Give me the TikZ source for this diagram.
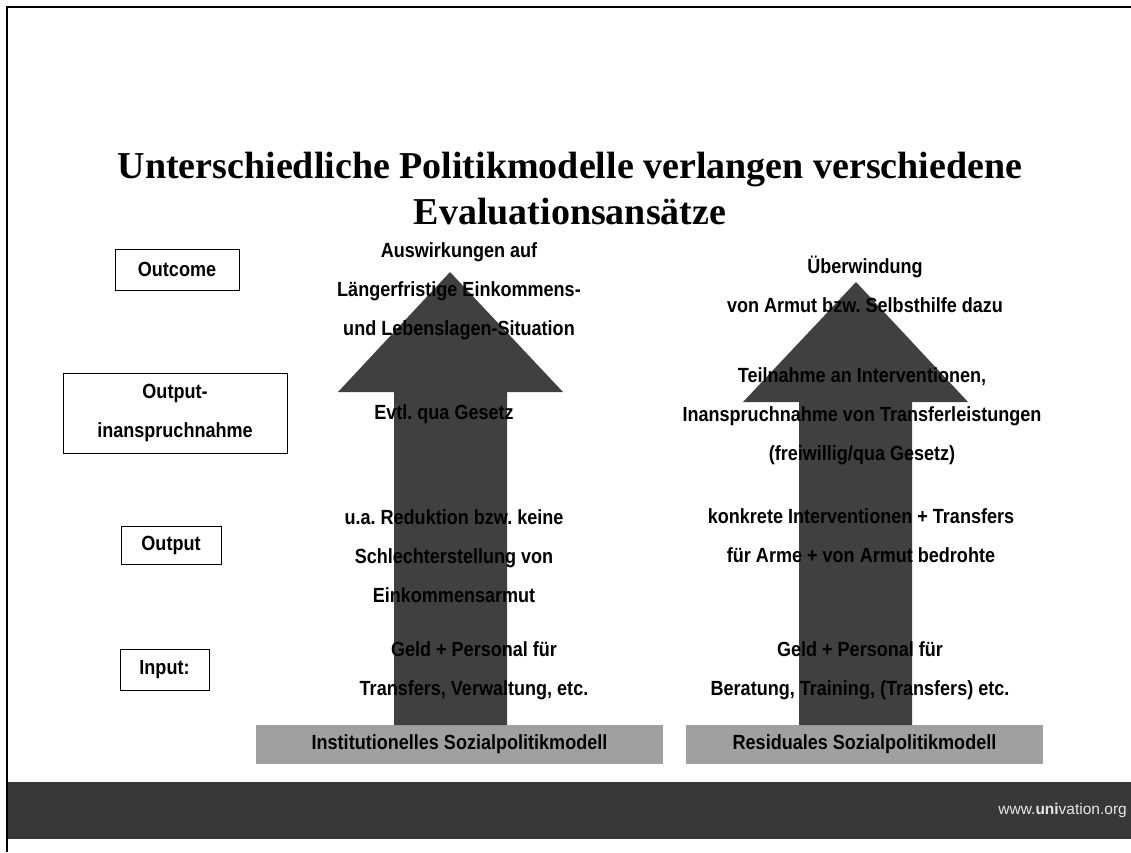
\documentclass[tikz,border=0pt]{standalone}
\usepackage{fontspec}
\setmainfont{Liberation Sans}[FakeStretch=0.88]
\newfontfamily\titelfont{Liberation Serif}
\newfontfamily\webfont{Liberation Sans}
\usepackage{tikz}
\usetikzlibrary{positioning}
\frenchspacing

\definecolor{pfeilgrau}{HTML}{404040}
\definecolor{bandgrau}{HTML}{383838}
\definecolor{balkengrau}{HTML}{A0A0A0}
\definecolor{webgrau}{HTML}{E6E6E6}

\begin{document}
\begin{tikzpicture}[x=1pt, y=-1pt,
  every node/.style={font=\bfseries\fontsize{20.5}{39}\selectfont, align=center, inner sep=0pt},
  stufe/.style={draw, line width=0.8pt, minimum height=41pt},
  modell/.style={fill=balkengrau, minimum height=39pt},
  pfeil/.style={fill=pfeilgrau}]
\useasboundingbox (0,0) rectangle (1131,852);

% Rahmen und Fussleiste
\draw[line width=2pt] (7,852) -- (7,7) -- (1131,7);
\fill[bandgrau] (8,782) rectangle (1131,839);
\node (web) [anchor=east, text=webgrau, font=\webfont\fontsize{15.5}{18}\selectfont] at (1127,810) {www.\textbf{uni}vation.org};

% Titel
\node (titel) [font=\titelfont\bfseries\fontsize{38}{46}\selectfont] at (570,188.5) {Unterschiedliche Politikmodelle verlangen verschiedene\\ Evaluationsans\"atze};

% Ebenen links
\node (outcome) [stufe, minimum width=124pt] at (177,269.5) {Outcome};
\node (inanspr) [stufe, minimum width=224pt, minimum height=80pt] at (175,413) {Output-\\inanspruchnahme};
\node (output) [stufe, minimum width=100pt, minimum height=38pt] at (171,545) {Output};
\node (input) [stufe, minimum width=89pt] at (164.5,669.5) {Input:};

% Modelle
\node (inst) [modell, minimum width=407pt] at (459.5,744.5) {Institutionelles Sozialpolitikmodell};
\node (resid) [modell, minimum width=357pt] at (864.5,744.5) {Residuales Sozialpolitikmodell};

% Pfeile
\fill[pfeil] (394,725) -- (394,392) -- (338,392) -- (450,272) -- (563,392) -- (507,392) -- (507,725) -- cycle;
\fill[pfeil] (799,725) -- (799,402) -- (743,402) -- (856,282) -- (968,402) -- (912,402) -- (912,725) -- cycle;

% Texte institutionelles Modell
\node (inst-outcome) at (459,291) {Auswirkungen auf\\ L\"angerfristige Einkommens-\\ und Lebenslagen-Situation};
\node (inst-inanspr) at (444,414) {Evtl. qua Gesetz};
\node (inst-output) at (454,556) {u.a. Reduktion bzw. keine\\ Schlechterstellung von\\ Einkommensarmut};
\node (inst-input) at (474,671) {Geld + Personal f\"ur\\ Transfers, Verwaltung, etc.};

% Texte residuales Modell
\node (resid-outcome) at (865,284) {\"Uberwindung\\ von Armut bzw. Selbsthilfe dazu};
\node (resid-inanspr) at (862,416) {Teilnahme an Interventionen,\\ Inanspruchnahme von Transferleistungen\\ (freiwillig/qua Gesetz)};
\node (resid-output) at (861,536) {konkrete Interventionen + Transfers\\ f\"ur Arme + von Armut bedrohte};
\node (resid-input) at (860,671) {Geld + Personal f\"ur\\ Beratung, Training, (Transfers) etc.};
\end{tikzpicture}
\end{document}
